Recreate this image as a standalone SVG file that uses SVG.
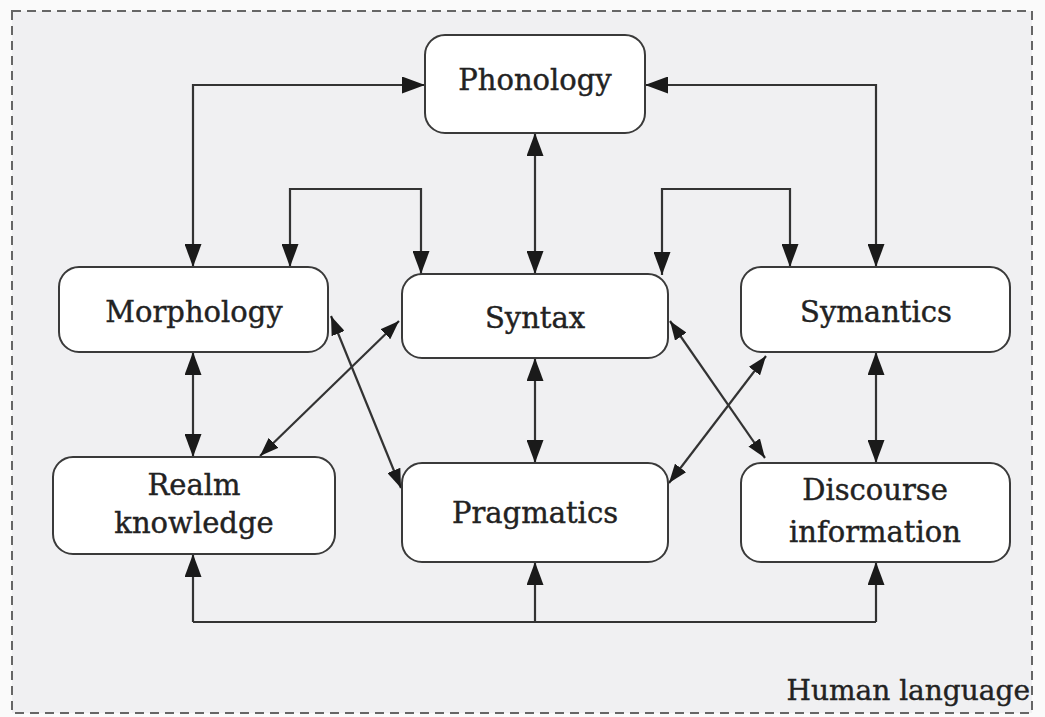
<svg xmlns="http://www.w3.org/2000/svg" width="1045" height="717" viewBox="0 0 1045 717">
<style>
.box{fill:#fff;stroke:#3a3a3a;stroke-width:2}
.lbl{font-family:"DejaVu Serif","Liberation Serif",serif;font-size:29px;fill:#222;stroke:#222;stroke-width:0.4;text-anchor:middle}
.con{fill:none;stroke:#333;stroke-width:2.2}
.both{marker-start:url(#ah);marker-end:url(#ah)}
.end{marker-end:url(#ah)}
.diag{marker-start:url(#as);marker-end:url(#as)}
</style>
<defs>
<marker id="ah" markerUnits="userSpaceOnUse" markerWidth="24" markerHeight="17" refX="23" refY="8.5" orient="auto-start-reverse" viewBox="0 0 24 17">
<path d="M0,0 L23,8.5 L0,17 z" fill="#1a1a1a"/>
</marker>
<marker id="as" markerUnits="userSpaceOnUse" markerWidth="20" markerHeight="14" refX="19" refY="7" orient="auto-start-reverse" viewBox="0 0 20 14">
<path d="M0,0 L19,7 L0,14 z" fill="#1a1a1a"/>
</marker>
</defs>
<rect x="0" y="0" width="1045" height="717" fill="#fafafa"/>
<rect x="12" y="11" width="1020" height="702" fill="#f0f0f2" stroke="#666" stroke-width="2" stroke-dasharray="9,6"/>
<g id="connectors">
<path class="con both" d="M425,85 H193 V267"/>
<path class="con both" d="M645,85 H876 V267"/>
<path class="con both" d="M290,267 V189 H421 V274"/>
<path class="con both" d="M662,275 V189 H790 V267"/>
<path class="con both" d="M535,133 V274"/>
<path class="con both" d="M193,352 V457"/>
<path class="con both" d="M535,358 V463"/>
<path class="con both" d="M876,352 V463"/>
<path class="con diag" d="M331,316 L401,488"/>
<path class="con diag" d="M260,456 L399,321"/>
<path class="con diag" d="M670,321 L765,458"/>
<path class="con diag" d="M766,356 L669,483"/>
<path class="con" d="M193,622 H876"/>
<path class="con end" d="M193,622 V554"/>
<path class="con end" d="M535,622 V562"/>
<path class="con end" d="M876,622 V562"/>
</g>
<g id="phonology"><rect class="box" x="425" y="35" width="220" height="98" rx="20"/><text class="lbl" x="535" y="90">Phonology</text></g>
<g id="morphology"><rect class="box" x="59" y="267" width="269" height="85" rx="20"/><text class="lbl" x="194" y="322">Morphology</text></g>
<g id="syntax"><rect class="box" x="402" y="274" width="266" height="84" rx="20"/><text class="lbl" x="535" y="328">Syntax</text></g>
<g id="symantics"><rect class="box" x="741" y="267" width="269" height="85" rx="20"/><text class="lbl" x="876" y="322">Symantics</text></g>
<g id="realm"><rect class="box" x="53" y="457" width="282" height="97" rx="20"/><text class="lbl" x="194" y="495">Realm</text><text class="lbl" x="194" y="533">knowledge</text></g>
<g id="pragmatics"><rect class="box" x="402" y="463" width="266" height="99" rx="20"/><text class="lbl" x="535" y="523">Pragmatics</text></g>
<g id="discourse"><rect class="box" x="741" y="463" width="269" height="99" rx="20"/><text class="lbl" x="875" y="500">Discourse</text><text class="lbl" x="875" y="542">information</text></g>
<text x="1030" y="700" font-family="DejaVu Serif, Liberation Serif, serif" font-size="28" fill="#222" stroke="#222" stroke-width="0.4" text-anchor="end">Human language</text>
</svg>
